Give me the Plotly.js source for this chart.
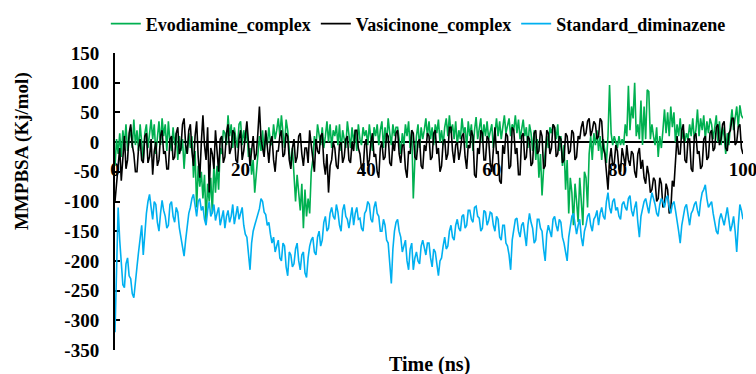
<!DOCTYPE html>
<html>
<head>
<meta charset="utf-8">
<script src="https://cdn.plot.ly/plotly-3.0.1.min.js"></script>
<style>html,body{margin:0;padding:0;background:#fff;}#chart{width:756px;height:374px;}</style>
</head>
<body>
<div id="chart"></div>
<script>
// Sampling interval of the trajectories (ns)
const timeStepNs = 0.25;

const seriesNames = ["Evodiamine_complex", "Vasicinone_complex", "Standard_diminazene"];

// MMPBSA (kJ/mol), one value every 0.25 ns from 0 to 100 ns
const evodiamine = [
 -40,5,-20,15,-25,20,-5,30,-15,10,25,-10,38,-5,20,-15,30,0,-30,15,
 30,-10,20,38,5,30,-20,10,35,-5,40,10,30,-15,35,0,-15,25,-5,15,
 -30,10,-15,5,-45,-5,-20,15,-10,10,-60,-15,-110,-40,-75,-50,-95,-55,-135,-70,
 -100,-60,-120,-35,-85,-40,-80,-10,-20,20,15,-5,45,10,30,-10,25,5,-10,30,
 35,-5,20,0,25,-25,-10,-55,-30,-85,-50,-20,10,-15,20,-20,15,-5,25,0,
 -5,30,5,20,40,10,45,15,-10,38,20,-15,-40,-10,-60,-100,-55,-80,-115,-70,
 -145,-80,-125,-95,-120,-50,-30,10,-10,30,15,-5,25,-10,10,35,0,30,-10,20,
 10,28,-5,30,-15,20,5,-10,35,15,-10,25,0,20,-15,30,5,-5,25,10,
 20,-5,30,5,-15,25,10,30,-5,20,35,-10,25,0,40,15,-5,30,10,25,
 25,5,-20,15,-5,30,10,35,-10,20,-95,-30,10,30,-10,25,5,20,40,10,
 35,5,25,-5,30,15,38,0,20,-5,25,40,10,45,15,30,5,35,-5,20,
 5,40,15,25,-10,35,10,30,-15,20,42,5,25,40,0,30,10,35,5,20,
 30,-10,20,40,10,35,5,25,45,15,28,40,10,30,20,45,15,38,5,25,
 38,10,25,-10,30,15,-15,20,-30,5,-60,-20,-90,-45,-20,10,-10,25,15,30,
 25,5,30,-15,10,-40,-5,-80,-30,-120,-60,-85,-140,-70,-100,-135,-60,-110,-140,-50,
 -60,-110,-20,10,-30,15,-5,20,-15,10,-30,5,-20,-35,10,96,15,-5,10,0,
 -10,10,-5,5,-5,30,10,95,20,60,40,100,10,30,5,70,-5,60,5,88,
 85,5,30,10,-5,25,-25,10,-10,20,55,15,50,10,60,25,50,0,30,10,
 40,5,20,0,15,5,30,10,40,5,20,55,10,40,20,45,5,35,15,40,
 30,5,25,45,0,35,-5,25,10,-20,15,-5,30,55,20,40,60,25,62,45,
 40
];

const vasicinone = [
 -100,-70,-40,-10,-65,-20,10,-45,-30,15,30,-5,-20,-50,-50,-10,5,-30,-35,10,
 15,-35,-25,5,-55,-15,0,-40,-30,10,20,-20,-15,-45,-45,5,10,-30,-25,15,
 25,-20,-10,30,40,-5,-20,20,30,-15,-40,10,35,-25,-60,0,45,-5,-30,25,
 -85,-10,-20,-45,20,-15,-50,5,10,-35,-25,15,30,-20,-10,20,15,-30,-35,5,
 20,-30,-15,10,35,0,-40,-15,10,-30,-20,15,60,5,-10,-25,20,-5,-35,0,
 10,-30,-50,-15,-15,10,20,-25,-20,15,10,-30,-45,-10,5,-35,-25,10,15,-20,
 -40,-10,-10,-35,20,-5,-30,-50,5,-15,-20,10,15,-35,-55,-20,-85,-40,-30,0,
 -10,-40,-45,-5,0,-35,-25,5,10,-30,-35,0,-15,20,20,-10,-20,-45,-50,-5,
 5,-40,-30,0,15,-25,-20,-50,-60,-10,0,-30,-25,15,10,-35,-40,0,-15,15,
 20,-20,-35,-5,-5,-45,-60,-15,-20,20,15,-25,-30,0,5,-40,-45,-5,-15,15,
 10,-30,-25,15,20,-20,-10,-50,-40,0,5,-30,-20,25,25,-15,-35,-5,0,-30,
 -15,10,15,-25,-45,-5,-10,20,10,-55,-60,-10,-20,20,15,-30,-30,10,5,-35,
 -50,-5,25,-20,-15,-65,-70,-5,-20,15,10,-45,-40,25,20,-20,-10,-55,-55,10,
 15,-30,-25,10,5,-40,-35,15,20,-20,-15,20,10,-45,-40,20,15,-20,-10,30,
 25,-25,-20,10,5,-35,-30,15,10,-20,-15,20,15,-30,-25,10,5,25,35,10,
 15,35,40,10,20,35,30,5,10,40,35,-10,-20,-50,-80,-30,-10,-40,-35,-5,
 -15,-45,-50,-10,-25,-40,-5,-30,-40,-15,-20,-50,-60,-20,-10,-45,-30,-60,-70,-40,
 -55,-85,-80,-60,-65,-100,-95,-60,-70,-110,-105,-70,-80,-120,-115,-65,-75,-30,10,-20,
 -20,20,30,-30,-35,5,5,-45,-50,10,15,-20,-15,-45,-40,5,10,-30,-25,15,
 20,-15,-10,25,30,-5,5,30,35,-10,-15,15,20,40,40,-5,0,25,30,-10,
 -20
];

const diminazene = [
 -320,-200,-110,-165,-200,-240,-245,-205,-195,-225,-230,-255,-262,-230,-210,-185,-165,-140,-190,-150,
 -120,-100,-88,-110,-130,-100,-105,-135,-150,-120,-98,-115,-125,-145,-140,-105,-100,-125,-135,-110,
 -118,-145,-160,-175,-192,-165,-140,-120,-110,-95,-88,-110,-125,-100,-95,-115,-108,-130,-140,-115,
 -100,-125,-118,-105,-132,-120,-110,-140,-128,-115,-145,-125,-115,-135,-125,-105,-138,-120,-108,-130,
 -122,-110,-140,-155,-160,-185,-215,-170,-150,-140,-130,-120,-112,-95,-100,-118,-122,-140,-135,-155,
 -170,-160,-185,-175,-165,-195,-200,-170,-175,-210,-225,-185,-190,-210,-205,-180,-170,-200,-215,-190,
 -185,-220,-228,-195,-175,-165,-160,-185,-190,-160,-150,-175,-165,-135,-125,-150,-145,-120,-110,-125,
 -130,-105,-118,-140,-150,-115,-105,-125,-130,-145,-125,-110,-140,-120,-110,-130,-128,-145,-150,-120,
 -115,-100,-105,-130,-135,-110,-100,-120,-125,-150,-150,-130,-140,-165,-170,-200,-238,-180,-150,-135,
 -130,-150,-160,-185,-175,-165,-200,-215,-180,-170,-215,-195,-185,-200,-205,-175,-165,-180,-190,-170,
 -170,-195,-210,-180,-185,-205,-225,-200,-195,-175,-160,-180,-175,-150,-140,-160,-165,-140,-130,-145,
 -150,-125,-122,-145,-140,-115,-115,-130,-135,-110,-108,-125,-128,-150,-145,-115,-118,-140,-132,-118,
 -120,-140,-150,-125,-130,-160,-165,-140,-140,-170,-175,-190,-215,-165,-150,-130,-128,-150,-160,-140,
 -135,-160,-175,-140,-120,-135,-145,-170,-165,-130,-130,-145,-150,-180,-200,-155,-140,-150,-160,-130,
 -125,-140,-150,-130,-135,-160,-170,-185,-200,-160,-145,-125,-120,-140,-155,-140,-130,-160,-175,-150,
 -140,-125,-120,-140,-150,-130,-125,-115,-140,-120,-110,-125,-130,-100,-85,-110,-120,-100,-95,-115,
 -110,-125,-130,-105,-100,-110,-115,-95,-90,-115,-125,-110,-100,-135,-160,-125,-110,-100,-95,-110,
 -120,-100,-85,-95,-105,-120,-125,-105,-95,-100,-110,-95,-90,-110,-120,-105,-100,-115,-130,-150,
 -170,-140,-125,-110,-105,-125,-140,-120,-115,-105,-100,-115,-125,-100,-85,-80,-72,-95,-110,-105,
 -100,-120,-135,-150,-155,-130,-120,-130,-140,-125,-110,-130,-150,-140,-125,-150,-185,-140,-105,-115,
 -130
];

const seriesValues = [evodiamine, vasicinone, diminazene];
const seriesColors = ["#00B050", "#000000", "#00B0F0"];

const xTickVals = [0, 20, 40, 60, 80, 100];
const yTickVals = [-350, -300, -250, -200, -150, -100, -50, 0, 50, 100, 150];
const yTickText = yTickVals.map(v => String(v));

const fontFamily = "'Times New Roman', 'Liberation Serif', 'DejaVu Serif', serif";

const traces = seriesValues.map((vals, k) => ({
  type: "scatter",
  mode: "lines",
  name: seriesNames[k],
  x: vals.map((_, i) => i * timeStepNs),
  y: vals,
  line: {color: seriesColors[k], width: 1.6},
  hoverinfo: "skip"
}));

const layout = {
  width: 756,
  height: 374,
  margin: {l: 115, r: 13, t: 53, b: 24, autoexpand: false},
  paper_bgcolor: "#ffffff",
  plot_bgcolor: "#ffffff",
  font: {family: fontFamily, size: 19, color: "#000000", weight: "bold"},
  showlegend: true,
  legend: {
    orientation: "h",
    x: 0.483, xanchor: "center",
    y: 1.098, yanchor: "middle",
    font: {family: fontFamily, size: 18, color: "#000000", weight: "bold"},
    itemwidth: 30,
    tracegroupgap: 0,
    bgcolor: "rgba(0,0,0,0)"
  },
  xaxis: {
    range: [0, 100],
    anchor: "free",
    position: 0.7,
    showline: true,
    linecolor: "#000000",
    linewidth: 2,
    ticks: "",
    tickvals: xTickVals,
    ticktext: xTickVals.map(String),
    tickfont: {family: fontFamily, size: 19, color: "#000000", weight: "bold"},
    ticklabelstandoff: 10,
    ticklabeloverflow: "allow",
    showgrid: false,
    zeroline: false,
    layer: "below traces",
    automargin: false
  },
  yaxis: {
    range: [-350, 150],
    domain: [0, 1],
    showline: true,
    linecolor: "#000000",
    linewidth: 2,
    ticks: "inside",
    ticklen: 5,
    tickwidth: 2,
    tickcolor: "#000000",
    tickvals: yTickVals,
    ticktext: yTickText,
    tickfont: {family: fontFamily, size: 19, color: "#000000", weight: "bold"},
    ticklabelstandoff: 10,
    showgrid: false,
    zeroline: false,
    layer: "below traces",
    automargin: false
  },
  annotations: [
    {
      text: "MMPBSA (Kj/mol)",
      xref: "paper", yref: "paper",
      x: -0.148, y: 0.67,
      xanchor: "center", yanchor: "middle",
      textangle: -90,
      showarrow: false,
      font: {family: fontFamily, size: 19, color: "#000000", weight: "bold"}
    },
    {
      text: "Time (ns)",
      xref: "paper", yref: "paper",
      x: 0.5, y: -0.05,
      xanchor: "center", yanchor: "middle",
      showarrow: false,
      font: {family: fontFamily, size: 20, color: "#000000", weight: "bold"}
    }
  ]
};

Plotly.newPlot("chart", traces, layout, {displayModeBar: false, staticPlot: true});
</script>
</body>
</html>
